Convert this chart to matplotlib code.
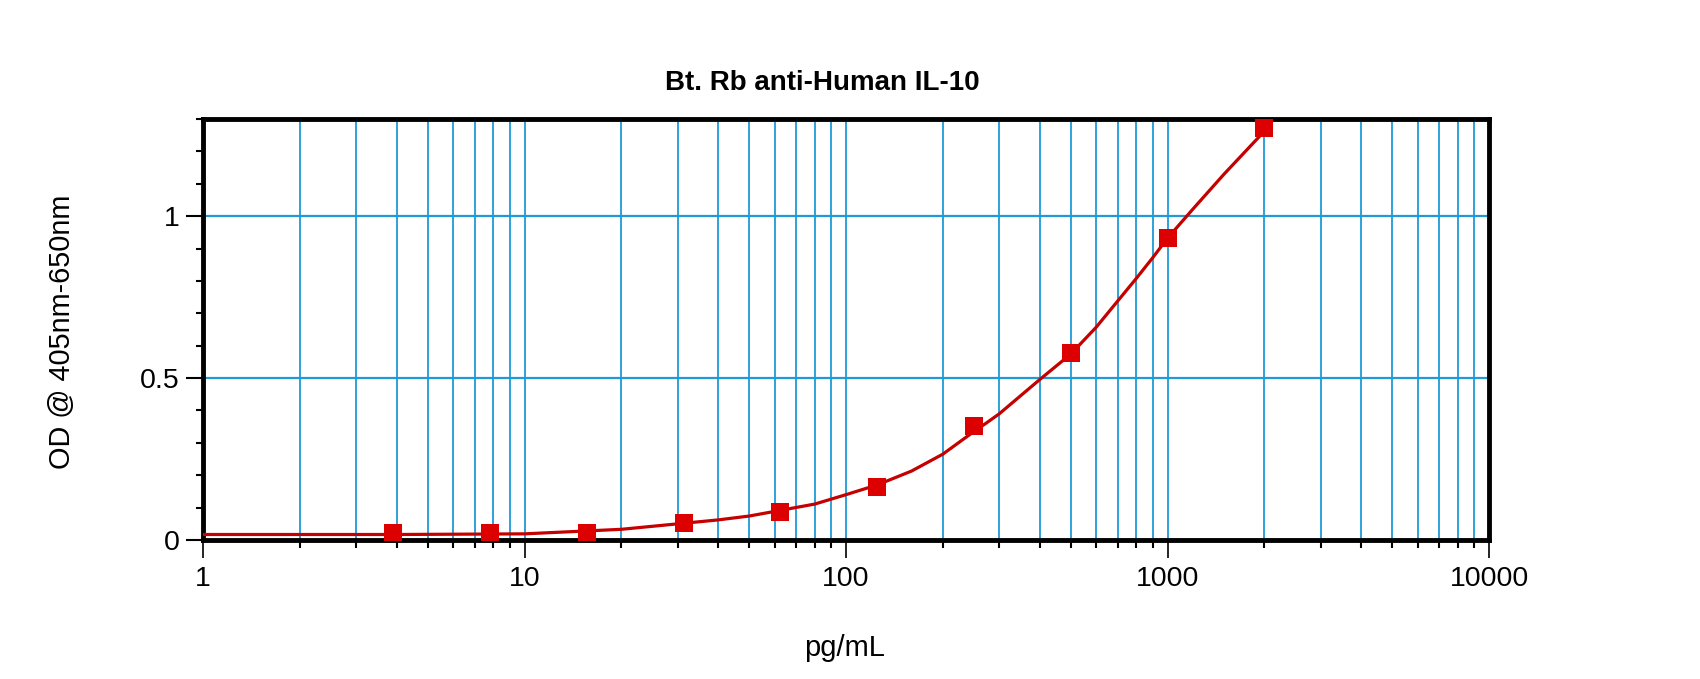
import matplotlib
matplotlib.use("Agg")
import matplotlib.pyplot as plt
from matplotlib.ticker import LogLocator, FixedLocator, MultipleLocator, NullFormatter, FixedFormatter

# Data
conc = [3.9, 7.8, 15.6, 31.25, 62.5, 125, 250, 500, 1000, 2000]
od = [0.021, 0.021, 0.021, 0.054, 0.088, 0.165, 0.353, 0.576, 0.934, 1.271]

# Fitted curve
curve_x = [1, 4, 10, 20, 40, 50, 80, 100, 125, 160, 200, 250, 273, 300, 400, 500,
           600, 700, 800, 900, 1000, 1200, 1500, 2000]
curve_y = [0.017, 0.017, 0.019, 0.033, 0.062, 0.074, 0.111, 0.140, 0.170, 0.213,
           0.265, 0.335, 0.361, 0.390, 0.495, 0.574, 0.657, 0.738, 0.808, 0.872,
           0.932, 1.022, 1.130, 1.262]

x_major = [1, 10, 100, 1000, 10000]
x_labels = ["1", "10", "100", "1000", "10000"]
y_major = [0, 0.5, 1]
y_labels = ["0", "0.5", "1"]

title = "Bt. Rb anti-Human IL-10"
xlabel = "pg/mL"
ylabel = "OD @ 405nm-650nm"

plt.rcParams['font.family'] = ['Liberation Sans', 'DejaVu Sans']

W, H = 1700, 679
fig = plt.figure(figsize=(17, 6.79), dpi=100)
left, right, top, bottom = 203, 1489, 119, 540
ax = fig.add_axes([left / W, 1 - bottom / H, (right - left) / W, (bottom - top) / H])

grid_c = '#1E9BD7'
ax.set_xscale('log')
ax.set_xlim(1, 10000)
ax.set_ylim(0, 1.3)

ax.xaxis.set_major_locator(FixedLocator(x_major))
ax.xaxis.set_major_formatter(FixedFormatter(x_labels))
ax.xaxis.set_minor_locator(LogLocator(base=10, subs=[2, 3, 4, 5, 6, 7, 8, 9], numticks=20))
ax.xaxis.set_minor_formatter(NullFormatter())
ax.yaxis.set_major_locator(FixedLocator(y_major))
ax.yaxis.set_major_formatter(FixedFormatter(y_labels))
ax.yaxis.set_minor_locator(MultipleLocator(0.1))

ax.grid(True, which='both', axis='x', color=grid_c, linewidth=1.3)
ax.grid(True, which='major', axis='y', color=grid_c, linewidth=1.6)
ax.set_axisbelow(True)

ax.plot(curve_x, curve_y, color='#C40000', linewidth=2.3, zorder=3,
        solid_joinstyle='round')
ax.plot(conc, od, linestyle='none', marker='s', markersize=12.5,
        color='#DC0000', markeredgewidth=0, zorder=4)

for s in ax.spines.values():
    s.set_linewidth(3.5)
    s.set_color('black')

ax.tick_params(axis='x', which='major', direction='out', length=13, width=1.2,
               labelsize=20.5, pad=6, colors='black')
ax.tick_params(axis='x', which='minor', direction='out', length=6, width=1.5)
ax.tick_params(axis='y', which='major', direction='out', length=12, width=1.5,
               labelsize=20.5, pad=5)
ax.tick_params(axis='y', which='minor', direction='out', length=5, width=1.5)

fig.text(822 / W, 1 - 83 / H, title, ha='center', va='center', fontsize=20, fontweight='bold')
fig.text(845 / W, 1 - 648 / H, xlabel, ha='center', va='center', fontsize=21)
fig.text(62 / W, 1 - 332 / H, ylabel, ha='center', va='center', fontsize=20.8, rotation=90)

fig.savefig('out.png', dpi=100)
